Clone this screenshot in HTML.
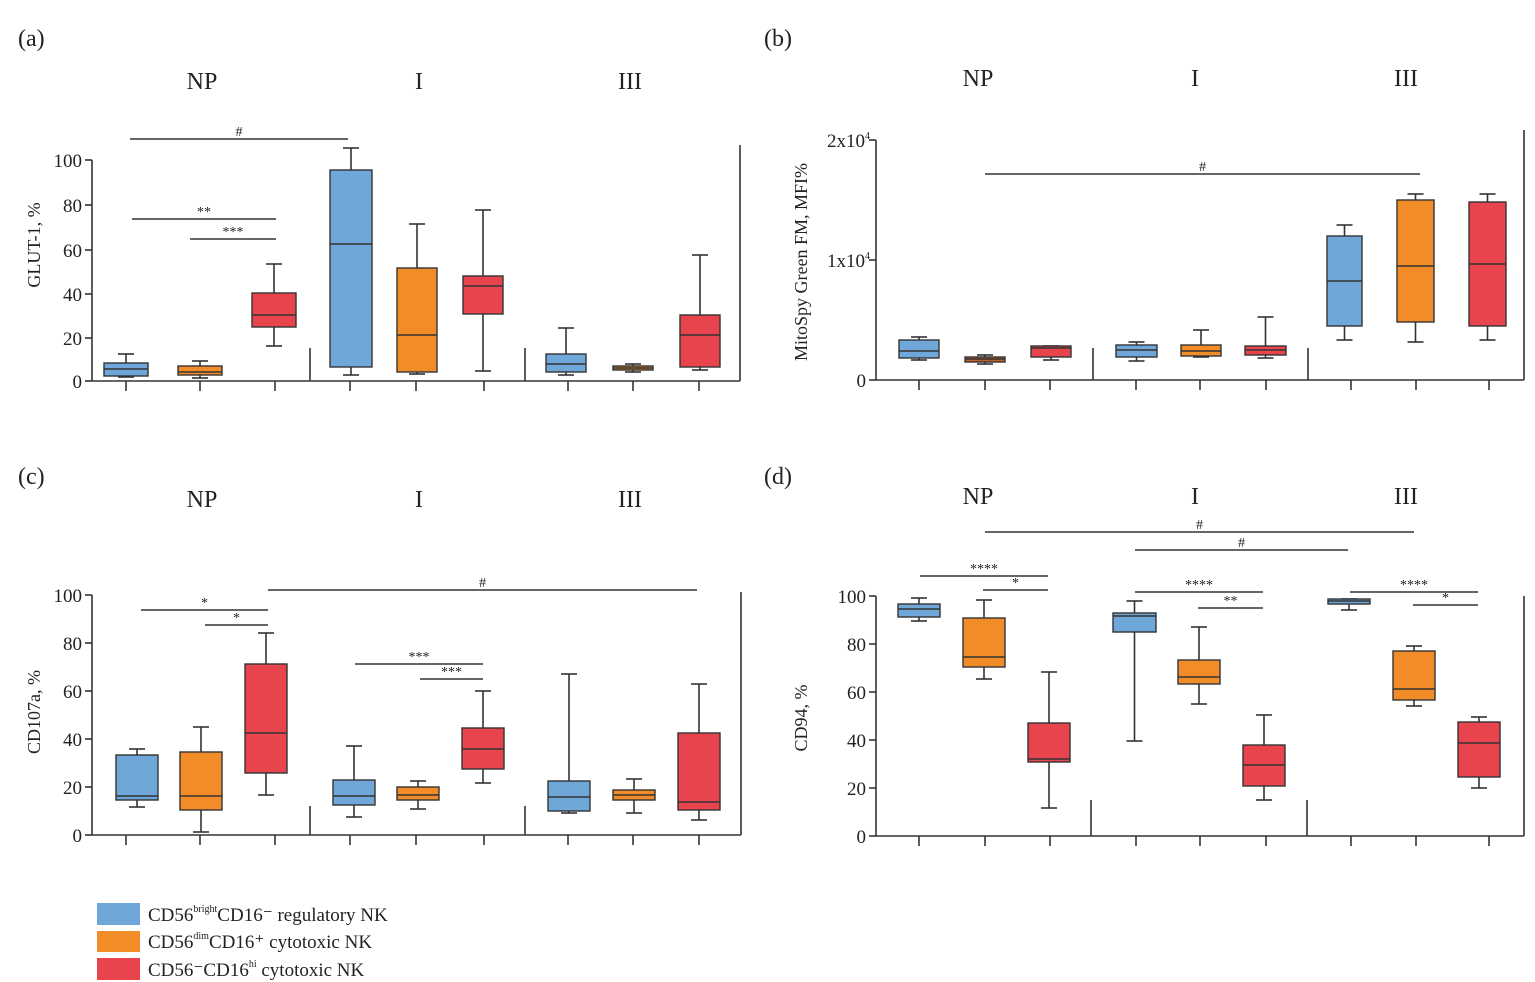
<!DOCTYPE html>
<html><head><meta charset="utf-8"><style>
body{margin:0;background:#fff;}
svg{display:block;font-family:"Liberation Serif",serif;}
</style></head><body>
<svg id="s" width="1535" height="982" viewBox="0 0 1535 982" xmlns="http://www.w3.org/2000/svg">
<g font-size="24" fill="#222">
<text x="18" y="46">(a)</text><text x="764" y="46">(b)</text>
<text x="18" y="484">(c)</text><text x="764" y="484">(d)</text>
<text x="202" y="89" text-anchor="middle">NP</text><text x="419" y="89" text-anchor="middle">I</text><text x="630" y="89" text-anchor="middle">III</text>
<text x="978" y="86" text-anchor="middle">NP</text><text x="1195" y="86" text-anchor="middle">I</text><text x="1406" y="86" text-anchor="middle">III</text>
<text x="202" y="507" text-anchor="middle">NP</text><text x="419" y="507" text-anchor="middle">I</text><text x="630" y="507" text-anchor="middle">III</text>
<text x="978" y="504" text-anchor="middle">NP</text><text x="1195" y="504" text-anchor="middle">I</text><text x="1406" y="504" text-anchor="middle">III</text>
</g>
<g font-size="18" fill="#222">
<text transform="translate(40,245) rotate(-90)" text-anchor="middle">GLUT-1, %</text>
<text transform="translate(40,712) rotate(-90)" text-anchor="middle">CD107a, %</text>
<text transform="translate(807,262) rotate(-90)" text-anchor="middle">MitoSpy Green FM, MFI%</text>
<text transform="translate(807,718) rotate(-90)" text-anchor="middle">CD94, %</text>
</g>
<g font-size="19" fill="#222">
<rect x="97" y="903" width="43" height="22" fill="#6fa7d9"/>
<rect x="97" y="931" width="43" height="21" fill="#f28c28"/>
<rect x="97" y="958" width="43" height="22" fill="#e8444e"/>
<text x="148" y="921">CD56<tspan font-size="10" dy="-9">bright</tspan><tspan dy="9">CD16⁻ regulatory NK</tspan></text>
<text x="148" y="948">CD56<tspan font-size="10" dy="-9">dim</tspan><tspan dy="9">CD16⁺ cytotoxic NK</tspan></text>
<text x="148" y="976">CD56⁻CD16<tspan font-size="10" dy="-9">hi</tspan><tspan dy="9"> cytotoxic NK</tspan></text>
</g>
<g id="g"></g>
</svg>
<script>
var g=document.getElementById('g'),h='';
var C=['#6fa7d9','#f28c28','#e8444e'];
function L(x1,y1,x2,y2,w){h+='<line x1="'+x1+'" y1="'+y1+'" x2="'+x2+'" y2="'+y2+'" stroke="#333" stroke-width="'+(w||1.6)+'"/>';}
function T(x,y,t,s,a){h+='<text x="'+x+'" y="'+y+'" font-size="'+s+'" text-anchor="'+(a||'end')+'" fill="#222" font-family="Liberation Serif,serif">'+t+'</text>';}
function B(x1,x2,wl,wh,q1,q3,m,c){var cx=(x1+x2)/2;L(cx,wl,cx,wh);L(cx-8,wl,cx+8,wl);L(cx-8,wh,cx+8,wh);
h+='<rect x="'+x1+'" y="'+q1+'" width="'+(x2-x1)+'" height="'+(q3-q1)+'" fill="'+c+'" stroke="#333" stroke-width="1.4"/>';L(x1,m,x2,m);}
function S(y,x1,x2,t){L(x1,y,x2,y);T((x1+x2)/2,y-3,t,14,'middle');}
function axes(ax,top,bot,rt,rtop,ticks,seps,sepTop,ylab){L(ax,top,ax,bot);L(ax,bot,rt,bot);L(rt,rtop,rt,bot);
ylab.forEach(function(v){L(ax-7,v[0],ax,v[0]);T(ax-10,v[0]+7,v[1],19);});
ticks.forEach(function(x){L(x,bot,x,bot+10);});seps.forEach(function(x){L(x,sepTop,x,bot);});}
var tA=[126,200,275,350,416,484,568,633,699],tB=[919,985,1050,1136,1200,1266,1351,1416,1489];
// a
axes(92,160,381,740,145,tA,[310,525],348,[[160,'100'],[205,'80'],[250,'60'],[294,'40'],[338,'20'],[381,'0']]);
B(104,148,354,377,363,376,369,C[0]);B(178,222,361,378,366,375,372,C[1]);B(252,296,264,346,293,327,315,C[2]);
B(330,372,148,375,170,367,244,C[0]);B(397,437,224,374,268,372,335,C[1]);B(463,503,210,371,276,314,286,C[2]);
B(546,586,328,375,354,372,364,C[0]);B(613,653,364,372,366,370,368,C[1]);B(680,720,255,370,315,367,335,C[2]);
S(139,130,348,'#');S(219,132,276,'**');S(239,190,276,'***');
// b
axes(876,140,380,1524,130,tB,[1093,1308],348,[[380,'0']]);
T(870,147,'2x10<tspan font-size="10" dy="-8">4</tspan>',19);T(870,267,'1x10<tspan font-size="10" dy="-8">4</tspan>',19);L(869,140,876,140);L(869,260,876,260);
B(899,939,337,360,340,358,351,C[0]);B(965,1005,355,364,357,362,359,'#c0602a');B(1031,1071,346,360,346,357,348,C[2]);
B(1116,1157,342,361,345,357,350,C[0]);B(1181,1221,330,357,345,356,351,C[1]);B(1245,1286,317,358,346,355,350,C[2]);
B(1327,1362,225,340,236,326,281,C[0]);B(1397,1434,194,342,200,322,266,C[1]);B(1469,1506,194,340,202,326,264,C[2]);
S(174,985,1420,'#');
// c
axes(92,595,835,741,592,tA,[310,525],806,[[595,'100'],[643,'80'],[691,'60'],[739,'40'],[787,'20'],[835,'0']]);
B(116,158,749,807,755,800,796,C[0]);B(180,222,727,832,752,810,796,C[1]);B(245,287,633,795,664,773,733,C[2]);
B(333,375,746,817,780,805,796,C[0]);B(397,439,781,809,787,800,795,C[1]);B(462,504,691,783,728,769,749,C[2]);
B(548,590,674,813,781,811,797,C[0]);B(613,655,779,813,790,800,795,C[1]);B(678,720,684,820,733,810,802,C[2]);
S(610,141,268,'*');S(625,205,268,'*');S(590,268,697,'#');S(664,355,483,'***');S(679,420,483,'***');
// d
axes(876,596,836,1524,596,tB,[1091,1307],800,[[596,'100'],[644,'80'],[692,'60'],[740,'40'],[788,'20'],[836,'0']]);
B(898,940,598,621,604,617,609,C[0]);B(963,1005,600,679,618,667,657,C[1]);B(1028,1070,672,808,723,762,759,C[2]);
B(1113,1156,601,741,613,632,616,C[0]);B(1178,1220,627,704,660,684,677,C[1]);B(1243,1285,715,800,745,786,765,C[2]);
B(1328,1370,599,610,599,604,601,C[0]);B(1393,1435,646,706,651,700,689,C[1]);B(1458,1500,717,788,722,777,743,C[2]);
S(532,985,1414,'#');S(550,1135,1348,'#');S(576,920,1048,'****');S(590,983,1048,'*');S(592,1135,1263,'****');S(608,1198,1263,'**');S(592,1350,1478,'****');S(605,1413,1478,'*');
g.innerHTML=h;
</script>
</body></html>
